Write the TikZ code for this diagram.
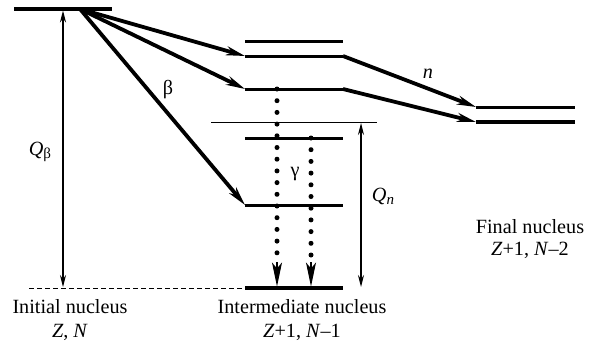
\documentclass[tikz,border=0pt]{standalone}
\usepackage{fontspec}
\setmainfont{Liberation Serif}
\usetikzlibrary{arrows.meta}
\begin{document}
\begin{tikzpicture}[x=1pt,y=-1pt,
  level/.style={line width=3pt},
  thicklevel/.style={line width=4.4pt},
  trans/.style={line width=3.8pt,-{Stealth[length=19pt,width=9pt,inset=6pt]}},
  qarrow/.style={line width=1.2pt,{Stealth[length=12pt,width=6pt,inset=4pt]}-{Stealth[length=12pt,width=6pt,inset=4pt]}},
  gam/.style={line width=5pt,line cap=round,dash pattern=on 0pt off 11.7pt},
  gtip/.style={line width=1.2pt,-{Stealth[length=24pt,width=10pt,inset=6pt]}},
  lab/.style={font=\fontsize{20.2}{23}\selectfont, inner sep=0pt}]
\useasboundingbox (0,0) rectangle (597,346);
% initial level
\coordinate (iL) at (14,9); \coordinate (iR) at (112,9);
\draw[level,line width=3.4pt] (iL) -- (iR);
\coordinate (src) at (80,9);
% intermediate levels
\coordinate (aL) at (245,41); \coordinate (aR) at (343,41);
\coordinate (bL) at (245,56); \coordinate (bR) at (343,56);
\coordinate (cL) at (245,89); \coordinate (cR) at (343,89);
\coordinate (dL) at (245,138); \coordinate (dR) at (343,138);
\coordinate (eL) at (245,205); \coordinate (eR) at (343,205);
\coordinate (gL) at (245,288); \coordinate (gR) at (343,288);
\coordinate (tL) at (211,122); \coordinate (tR) at (377,122);
\draw[level] (aL) -- (aR);
\draw[level] (bL) -- (bR);
\draw[level] (cL) -- (cR);
\draw[level] (dL) -- (dR);
\draw[level] (eL) -- (eR);
\draw[thicklevel] (gL) -- (gR);
\draw[line width=1pt] (tL) -- (tR);
% final levels
\coordinate (fL1) at (476,107); \coordinate (fR1) at (575,107);
\coordinate (fL2) at (476,122); \coordinate (fR2) at (575,122);
\draw[level] (fL1) -- (fR1);
\draw[thicklevel,line width=4pt] (fL2) -- (fR2);
% dashed baseline
\coordinate (dashL) at (29,288);
\draw[line width=1pt,dash pattern=on 5pt off 3pt] (dashL) -- (gL);
% beta transitions
\draw[trans] (src) -- (bL);
\draw[trans] (src) -- (cL);
\draw[trans] (src) -- (eL);
% neutron transitions
\draw[trans] (bR) -- (fL1);
\draw[trans] (cR) -- (fL2);
% Q arrows
\coordinate (qbT) at (63,10.5); \coordinate (qbB) at (63,287);
\draw[qarrow] (qbB) -- (qbT);
\coordinate (qnT) at (361,123); \coordinate (qnB) at (361,287);
\draw[qarrow] (qnT) -- (qnB);
% gamma
\coordinate (g1T) at (277,89); \coordinate (g1H) at (277,262); \coordinate (g1B) at (277,286.5);
\coordinate (g2T) at (311,138); \coordinate (g2H) at (311,262); \coordinate (g2B) at (311,286.5);
\draw[gam] (g1T) -- (g1H);
\draw[gam] (g2T) -- (g2H);
\draw[gtip] (g1H) -- (g1B);
\draw[gtip] (g2H) -- (g2B);
% labels
\node[lab] (lQb) at (40,152) {\textit{Q}\raisebox{-0.35ex}{\fontsize{15}{16}\selectfont β}};
\node[lab] (lb) at (168,90) {β};
\node[lab] (lg) at (295,174) {γ};
\node[lab] (ln) at (428,74) {\textit{n}};
\node[lab] (lQn) at (383,196) {\textit{Q}\raisebox{-0.35ex}{\fontsize{15}{16}\selectfont\itshape n}};
\node[lab] (t1) at (70,307) {Initial nucleus};
\node[lab] (t1b) at (70,332) {\textit{Z}, \textit{N}};
\node[lab] (t2) at (302,307) {Intermediate nucleus};
\node[lab] (t2b) at (302,332) {\textit{Z}+1, \textit{N}–1};
\node[lab] (t3) at (530,227) {Final nucleus};
\node[lab] (t3b) at (530,250) {\textit{Z}+1, \textit{N}–2};
\end{tikzpicture}
\end{document}
